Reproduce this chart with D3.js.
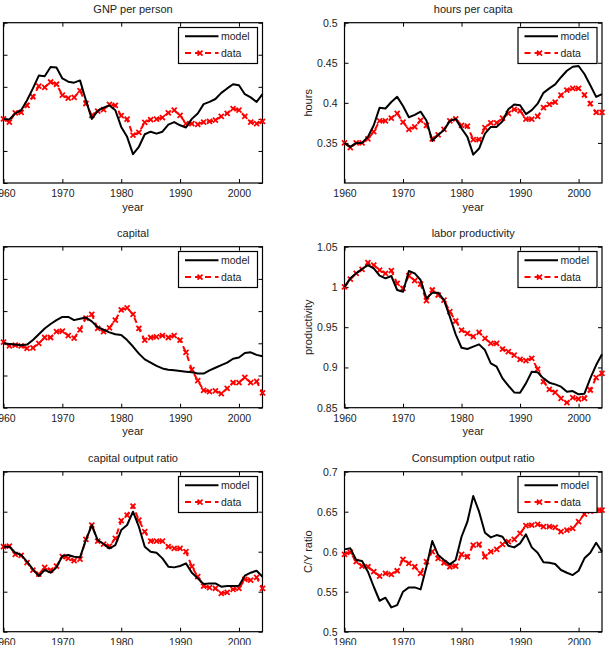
<!DOCTYPE html>
<html><head><meta charset="utf-8">
<script src="https://cdn.jsdelivr.net/npm/d3@7"></script>
<style>
body{margin:0;background:#fff;}
text{font-family:"Liberation Sans",Arial,Helvetica,sans-serif;fill:#222;}
</style></head>
<body>
<svg id="chart" width="611" height="645"></svg>
<script>
const years = [1960,1961,1962,1963,1964,1965,1966,1967,1968,1969,1970,1971,1972,1973,1974,1975,1976,1977,1978,1979,1980,1981,1982,1983,1984,1985,1986,1987,1988,1989,1990,1991,1992,1993,1994,1995,1996,1997,1998,1999,2000,2001,2002,2003,2004];
const xTickYears = [1960,1970,1980,1990,2000];
const seriesNames = ["model","data"];

const gnpModel = [1.0,0.998,1.017,1.027,1.058,1.095,1.135,1.133,1.162,1.16, 1.126,1.116,1.113,1.12,1.058,1.0,1.025,1.035,1.042,1.027, 0.975,0.944,0.89,0.913,0.952,0.96,0.954,0.96,0.982,0.99, 0.98,0.973,1.0,1.017,1.046,1.053,1.062,1.081,1.095,1.108, 1.105,1.077,1.067,1.053,1.077];
const gnpData = [1.0,0.99,1.019,1.02,1.042,1.069,1.102,1.098,1.115,1.108, 1.074,1.065,1.067,1.088,1.048,1.011,1.024,1.029,1.045,1.042, 1.01,0.999,0.949,0.958,0.989,0.998,0.999,1.004,1.019,1.027, 1.011,0.985,0.985,0.983,0.99,0.992,0.996,1.008,1.017,1.032, 1.027,1.008,0.99,0.985,0.992];

const hoursModel = [0.35,0.345,0.35,0.35,0.3575,0.372,0.394,0.393,0.401,0.4075, 0.396,0.382,0.385,0.389,0.378,0.3525,0.36,0.366,0.3775,0.38, 0.368,0.3575,0.3354,0.343,0.3617,0.37,0.37,0.377,0.392,0.398, 0.397,0.386,0.391,0.399,0.4125,0.418,0.423,0.432,0.44,0.445, 0.446,0.436,0.422,0.4075,0.411];
const hoursData = [0.35,0.344,0.35,0.35,0.355,0.364,0.3775,0.3775,0.381,0.387, 0.376,0.367,0.37,0.378,0.372,0.355,0.36,0.367,0.3775,0.38, 0.372,0.371,0.354,0.354,0.369,0.375,0.375,0.381,0.387,0.392, 0.39,0.3796,0.3796,0.383,0.394,0.398,0.401,0.4096,0.416,0.418, 0.418,0.41,0.399,0.388,0.388];

const capitalModel = [1.0,0.999,0.998,0.997,0.998,1.005,1.014,1.023,1.03,1.036, 1.041,1.041,1.036,1.038,1.04,1.034,1.025,1.021,1.017,1.014, 1.013,1.005,0.995,0.984,0.975,0.97,0.965,0.961,0.959,0.958, 0.957,0.956,0.955,0.953,0.953,0.958,0.962,0.966,0.97,0.976, 0.978,0.985,0.986,0.982,0.98];
const capitalData = [1.002,0.996,0.997,0.996,0.992,0.993,1.0,1.009,1.009,1.018, 1.019,1.012,1.008,1.021,1.039,1.045,1.023,1.018,1.024,1.036, 1.052,1.055,1.045,1.023,1.005,1.009,1.01,1.012,1.009,1.012, 1.005,0.986,0.959,0.942,0.927,0.925,0.926,0.922,0.93,0.939, 0.939,0.947,0.939,0.941,0.923];

const prodModel = [1.0,1.0107,1.0169,1.0223,1.0272,1.0231,1.014,1.0107,1.0136,0.9962, 0.9941,1.0198,1.0169,1.0086,0.9858,0.9929,0.9929,0.9837,0.963,0.9411, 0.9245,0.9229,0.9258,0.9287,0.9216,0.9051,0.9009,0.8864,0.8773,0.869, 0.8686,0.8802,0.8947,0.8939,0.8864,0.8811,0.879,0.8761,0.8699,0.8707, 0.8666,0.8674,0.8864,0.903,0.9163];
const prodData = [1.0,1.0098,1.0169,1.0218,1.0301,1.0272,1.021,1.0169,1.0202,1.0045, 0.9982,1.014,1.0078,1.0036,0.9829,0.9962,0.99,0.9837,0.9693,0.9577, 0.9465,0.9423,0.9382,0.9436,0.9361,0.9299,0.9299,0.9229,0.9196,0.9154, 0.91,0.9084,0.9113,0.898,0.8823,0.8728,0.869,0.8616,0.8562,0.8624, 0.8608,0.8616,0.872,0.8873,0.8927];

const coModel = [1.0125,1.0125,0.9975,0.9917,0.975,0.9558,0.9392,0.9542,0.9475,0.9608, 0.9892,0.9917,0.9875,0.9858,1.0292,1.0667,1.0292,1.0192,1.0083,1.0167, 1.0542,1.0667,1.1,1.0625,1.0125,1.0,0.9975,0.9833,0.9625,0.9608, 0.9642,0.9708,0.9475,0.9333,0.9192,0.9208,0.9208,0.9125,0.9142,0.9142, 0.915,0.94,0.9475,0.9525,0.9375];
const coData = [1.0125,1.0142,0.9933,0.9908,0.9725,0.9542,0.9442,0.9608,0.9542,0.9642, 0.9875,0.9833,0.9775,0.9817,1.0308,1.0667,1.0267,1.0192,1.0142,1.0333, 1.0775,1.0917,1.1142,1.0792,1.05,1.0267,1.0267,1.0267,1.0125,1.0083, 1.0083,1.0,0.9625,0.9375,0.9142,0.91,0.9083,0.8958,0.8983,0.9058, 0.9083,0.9308,0.9292,0.9358,0.9083];

const cyModel = [0.6029,0.6042,0.5896,0.5883,0.575,0.5562,0.5387,0.5425,0.5304,0.5333, 0.55,0.5554,0.5554,0.5529,0.5812,0.6133,0.5958,0.5896,0.5842,0.5896, 0.6187,0.6375,0.6696,0.65,0.6237,0.6179,0.6208,0.6187,0.6075,0.6054, 0.6104,0.6217,0.6054,0.5987,0.5867,0.5862,0.5846,0.5771,0.5737,0.5708, 0.5762,0.5917,0.5987,0.6112,0.6];
const cyData = [0.5967,0.5992,0.5875,0.5821,0.5812,0.575,0.5696,0.5729,0.5717,0.5762, 0.5904,0.5854,0.5812,0.5729,0.5875,0.6,0.5917,0.5862,0.5812,0.5821, 0.5967,0.5937,0.6083,0.6092,0.5937,0.6,0.6029,0.6092,0.6125,0.6154, 0.6229,0.6325,0.6333,0.6342,0.6313,0.6313,0.6304,0.625,0.6271,0.6292, 0.6375,0.6471,0.6508,0.6521,0.6521];

const gnpTicks = [0.8,0.9,1.0,1.1,1.2,1.3];
const hoursTicks = [0.35,0.4,0.45,0.5];
const capitalTicks = [0.9,0.95,1.0,1.05,1.1,1.15];
const prodTicks = [0.85,0.9,0.95,1,1.05];
const coTicks = [0.8,0.9,1.0,1.1,1.2];
const cyTicks = [0.5,0.55,0.6,0.65,0.7];

// left column: y tick labels and y titles lie outside the visible page in the reference
const panels = [
  {title:"GNP per person", ylabel:"", xlabel:"year", col:0, row:0, domain:[0.8,1.3], ticks:gnpTicks, showYLabels:false, model:gnpModel, data:gnpData},
  {title:"hours per capita", ylabel:"hours", xlabel:"year", col:1, row:0, domain:[0.3,0.5], ticks:hoursTicks, showYLabels:true, model:hoursModel, data:hoursData},
  {title:"capital", ylabel:"", xlabel:"year", col:0, row:1, domain:[0.9,1.15], ticks:capitalTicks, showYLabels:false, model:capitalModel, data:capitalData},
  {title:"labor productivity", ylabel:"productivity", xlabel:"year", col:1, row:1, domain:[0.85,1.05], ticks:prodTicks, showYLabels:true, model:prodModel, data:prodData},
  {title:"capital output ratio", ylabel:"", xlabel:"", col:0, row:2, domain:[0.8,1.2], ticks:coTicks, showYLabels:false, model:coModel, data:coData},
  {title:"Consumption output ratio", ylabel:"C/Y ratio", xlabel:"", col:1, row:2, domain:[0.5,0.7], ticks:cyTicks, showYLabels:true, model:cyModel, data:cyData}
];

const svg = d3.select("#chart");
const colX = [[3.5,262.5],[344.5,602]];
const rowY = [[22.7,183],[246.7,407.7],[471.7,631.7]];
const fmt = v => String(+v.toFixed(3));
const TL = 4;

panels.forEach(p => {
  const [x0,x1] = colX[p.col];
  const [y0,y1] = rowY[p.row];
  const x = d3.scaleLinear().domain([1960,2004]).range([x0,x1]);
  const y = d3.scaleLinear().domain(p.domain).range([y1,y0]);
  const g = svg.append("g");

  // axes (ticks inside, Matlab style)
  const bottom = g.append("g").attr("transform",`translate(0,${y1})`)
    .call(d3.axisBottom(x).tickValues(xTickYears).tickFormat(d3.format("d")).tickSizeInner(-TL).tickSizeOuter(0).tickPadding(7));
  const top = g.append("g").attr("transform",`translate(0,${y0})`)
    .call(d3.axisTop(x).tickValues(xTickYears).tickFormat("").tickSizeInner(-TL).tickSizeOuter(0));
  const left = g.append("g").attr("transform",`translate(${x0},0)`)
    .call(d3.axisLeft(y).tickValues(p.ticks).tickFormat(p.showYLabels ? fmt : "").tickSizeInner(-TL).tickSizeOuter(0).tickPadding(7));
  const right = g.append("g").attr("transform",`translate(${x1},0)`)
    .call(d3.axisRight(y).tickValues(p.ticks).tickFormat("").tickSizeInner(-TL).tickSizeOuter(0));
  [bottom,top,left,right].forEach(a => {
    a.select(".domain").remove();
    a.selectAll("line").attr("stroke","#000").attr("stroke-width",1);
    a.selectAll("text").attr("font-size","10.5px").attr("fill","#222")
      .style("font-family","'Liberation Sans',Arial,sans-serif");
  });

  // frame
  g.append("rect").attr("x",x0).attr("y",y0).attr("width",x1-x0).attr("height",y1-y0)
    .attr("fill","none").attr("stroke","#000").attr("stroke-width",1.2);

  // title / labels
  g.append("text").attr("x",(x0+x1)/2).attr("y",y0-9.5).attr("text-anchor","middle")
    .attr("font-size","11px").text(p.title);
  if (p.xlabel) {
    g.append("text").attr("x",(x0+x1)/2).attr("y",y1+27.5).attr("text-anchor","middle")
      .attr("font-size","11px").text(p.xlabel);
  }
  if (p.ylabel) {
    g.append("text").attr("transform",`translate(${x0-33},${(y0+y1)/2}) rotate(-90)`)
      .attr("text-anchor","middle").attr("font-size","11px").text(p.ylabel);
  }

  const line = d3.line().x((d,i)=>x(years[i])).y(d=>y(d));
  // data (red dashed with x markers)
  g.append("path").datum(p.data).attr("d",line).attr("fill","none")
    .attr("stroke","#ff0000").attr("stroke-width",2).attr("stroke-dasharray","6,4");
  const ms = 2.5;
  g.append("g").selectAll("path").data(p.data).join("path")
    .attr("d",(d,i)=>{const cx=x(years[i]), cy=y(d);
      return `M${cx-ms},${cy-ms}L${cx+ms},${cy+ms}M${cx-ms},${cy+ms}L${cx+ms},${cy-ms}`;})
    .attr("stroke","#ff0000").attr("stroke-width",1.8).attr("fill","none");
  // model
  g.append("path").datum(p.model).attr("d",line).attr("fill","none")
    .attr("stroke","#000").attr("stroke-width",2).attr("stroke-linejoin","round");

  // legend
  const lw = 79, lh = 36;
  const lx = x1-5-lw, ly = y0+4.8;
  const lg = g.append("g");
  lg.append("rect").attr("x",lx).attr("y",ly).attr("width",lw).attr("height",lh)
    .attr("fill","#fff").attr("stroke","#000").attr("stroke-width",1.2);
  seriesNames.forEach((name,k) => {
    const yy = ly + 8.8 + k*16.8;
    const l = lg.append("line").attr("x1",lx+6.5).attr("x2",lx+40).attr("y1",yy).attr("y2",yy)
      .attr("stroke-width",2);
    if (name==="model") l.attr("stroke","#000");
    else {
      l.attr("stroke","#ff0000").attr("stroke-dasharray","6,4");
      const cx = lx+21.5;
      lg.append("path").attr("d",`M${cx-ms},${yy-ms}L${cx+ms},${yy+ms}M${cx-ms},${yy+ms}L${cx+ms},${yy-ms}`)
        .attr("stroke","#ff0000").attr("stroke-width",1.8);
    }
    lg.append("text").attr("x",lx+42.5).attr("y",yy+3.8).attr("font-size","10.5px").text(name);
  });
});
</script>
</body></html>
